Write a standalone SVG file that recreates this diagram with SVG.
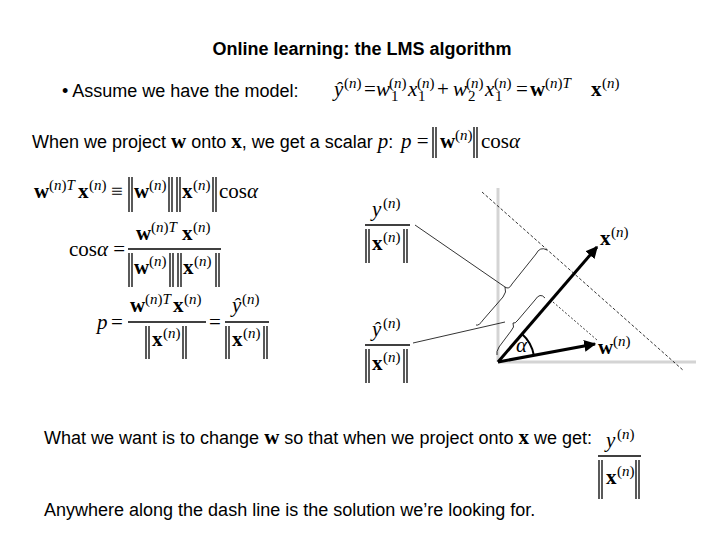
<svg xmlns="http://www.w3.org/2000/svg" width="720" height="540" viewBox="0 0 720 540">
<defs>
<style>
.s{font-family:"Liberation Sans",Arial,sans-serif;font-size:18px;fill:#000}
.m{font-family:"Liberation Serif","Times New Roman",serif;font-size:21px;fill:#000}
.p{font-family:"Liberation Serif","Times New Roman",serif;font-size:15px;fill:#000}
.b{font-weight:bold}
.i{font-style:italic}
.bar{stroke:#000;stroke-width:1.3}
.fl{stroke:#000;stroke-width:1.3}
</style>
<marker id="ah" viewBox="0 0 10 10" refX="9" refY="5" markerWidth="4" markerHeight="4" orient="auto"><path d="M0,0 L10,5 L0,10 z" fill="#000"/></marker>
</defs>
<rect width="720" height="540" fill="#fff"/>
<text class="s b" x="362" y="55" text-anchor="middle" font-size="17">Online learning: the LMS algorithm</text>
<text class="s" x="62" y="97">•  Assume we have the model:</text>
<g id="model">
<text class="m i" x="334" y="96">ŷ</text><text class="p" x="344" y="88">(<tspan class="i">n</tspan>)</text>
<text class="m" x="364" y="96">=</text>
<text class="m i" x="376" y="96">w</text><text class="p" x="389" y="88">(<tspan class="i">n</tspan>)</text><text class="p" x="391" y="101">1</text>
<text class="m i" x="408" y="96">x</text><text class="p" x="417" y="88">(<tspan class="i">n</tspan>)</text><text class="p" x="418" y="101">1</text>
<text class="m" x="437" y="96">+</text>
<text class="m i" x="453" y="96">w</text><text class="p" x="466" y="88">(<tspan class="i">n</tspan>)</text><text class="p" x="468" y="101">2</text>
<text class="m i" x="485" y="96">x</text><text class="p" x="494" y="88">(<tspan class="i">n</tspan>)</text><text class="p" x="495" y="101">1</text>
<text class="m" x="516" y="96">=</text>
<text class="m b" x="530" y="96">w</text><text class="p" x="545" y="88">(<tspan class="i">n</tspan>)<tspan class="i">T</tspan></text>
<text class="m b" x="591" y="96">x</text><text class="p" x="602" y="88">(<tspan class="i">n</tspan>)</text>
</g>
<text class="s" x="32" y="148">When we project <tspan class="m b">w</tspan> onto <tspan class="m b">x</tspan>, we get a scalar <tspan class="m i">p</tspan>:</text>
<g id="peq">
<text class="m" x="401" y="148"><tspan class="i">p</tspan> =</text>
<line class="bar" x1="433" y1="127" x2="433" y2="158"/><line class="bar" x1="436" y1="127" x2="436" y2="158"/>
<text class="m b" x="440" y="148">w</text><text class="p" x="455" y="140">(<tspan class="i">n</tspan>)</text>
<line class="bar" x1="474" y1="127" x2="474" y2="158"/><line class="bar" x1="477" y1="127" x2="477" y2="158"/>
<text class="m" x="481" y="148">cos<tspan class="i">α</tspan></text>
</g>
<g id="eq1">
<text class="m b" x="34" y="198">w</text><text class="p" x="49" y="190">(<tspan class="i">n</tspan>)<tspan class="i">T</tspan></text>
<text class="m b" x="78" y="198">x</text><text class="p" x="89" y="190">(<tspan class="i">n</tspan>)</text>
<text class="m" x="111" y="198">≡</text>
<line class="bar" x1="129" y1="177" x2="129" y2="212"/><line class="bar" x1="132" y1="177" x2="132" y2="212"/>
<text class="m b" x="134" y="198">w</text><text class="p" x="149" y="190">(<tspan class="i">n</tspan>)</text>
<line class="bar" x1="169" y1="177" x2="169" y2="212"/><line class="bar" x1="172" y1="177" x2="172" y2="212"/>
<line class="bar" x1="177" y1="177" x2="177" y2="212"/><line class="bar" x1="180" y1="177" x2="180" y2="212"/>
<text class="m b" x="182" y="198">x</text><text class="p" x="193" y="190">(<tspan class="i">n</tspan>)</text>
<line class="bar" x1="213" y1="177" x2="213" y2="212"/><line class="bar" x1="216" y1="177" x2="216" y2="212"/>
<text class="m" x="219" y="198">cos<tspan class="i">α</tspan></text>
</g>
<g id="eq2">
<text class="m" x="69" y="256">cos<tspan class="i">α</tspan> =</text>
<text class="m b" x="136" y="240">w</text><text class="p" x="151" y="232">(<tspan class="i">n</tspan>)<tspan class="i">T</tspan></text>
<text class="m b" x="182" y="240">x</text><text class="p" x="193" y="232">(<tspan class="i">n</tspan>)</text>
<line class="fl" x1="128" y1="249" x2="221" y2="249"/>
<line class="bar" x1="129" y1="253" x2="129" y2="287"/><line class="bar" x1="132" y1="253" x2="132" y2="287"/>
<text class="m b" x="134" y="274">w</text><text class="p" x="149" y="266">(<tspan class="i">n</tspan>)</text>
<line class="bar" x1="170" y1="253" x2="170" y2="287"/><line class="bar" x1="173" y1="253" x2="173" y2="287"/>
<line class="bar" x1="178" y1="253" x2="178" y2="287"/><line class="bar" x1="181" y1="253" x2="181" y2="287"/>
<text class="m b" x="183" y="274">x</text><text class="p" x="194" y="266">(<tspan class="i">n</tspan>)</text>
<line class="bar" x1="216" y1="253" x2="216" y2="287"/><line class="bar" x1="219" y1="253" x2="219" y2="287"/>
</g>
<g id="eq3">
<text class="m i" x="97" y="329">p</text><text class="m" x="111" y="329">=</text>
<text class="m b" x="130" y="312">w</text><text class="p" x="145" y="304">(<tspan class="i">n</tspan>)<tspan class="i">T</tspan></text>
<text class="m b" x="173" y="312">x</text><text class="p" x="184" y="304">(<tspan class="i">n</tspan>)</text>
<line class="fl" x1="128" y1="322" x2="206" y2="322"/>
<line class="bar" x1="146" y1="326" x2="146" y2="359"/><line class="bar" x1="149" y1="326" x2="149" y2="359"/>
<text class="m b" x="152" y="346">x</text><text class="p" x="163" y="338">(<tspan class="i">n</tspan>)</text>
<line class="bar" x1="183" y1="326" x2="183" y2="359"/><line class="bar" x1="186" y1="326" x2="186" y2="359"/>
<text class="m" x="209" y="329">=</text>
<text class="m i" x="232" y="312">ŷ</text><text class="p" x="242" y="304">(<tspan class="i">n</tspan>)</text>
<line class="fl" x1="225" y1="322" x2="269" y2="322"/>
<line class="bar" x1="226" y1="326" x2="226" y2="359"/><line class="bar" x1="229" y1="326" x2="229" y2="359"/>
<text class="m b" x="232" y="346">x</text><text class="p" x="243" y="338">(<tspan class="i">n</tspan>)</text>
<line class="bar" x1="264" y1="326" x2="264" y2="359"/><line class="bar" x1="267" y1="326" x2="267" y2="359"/>
</g>
<g id="fracY">
<text class="m i" x="372" y="216">y</text><text class="p" x="383" y="208">(<tspan class="i">n</tspan>)</text>
<line class="fl" x1="365" y1="225" x2="410" y2="225"/>
<line class="bar" x1="366" y1="229" x2="366" y2="263"/><line class="bar" x1="369" y1="229" x2="369" y2="263"/>
<text class="m b" x="372" y="250">x</text><text class="p" x="383" y="242">(<tspan class="i">n</tspan>)</text>
<line class="bar" x1="404" y1="229" x2="404" y2="263"/><line class="bar" x1="407" y1="229" x2="407" y2="263"/>
</g>
<g id="fracYhat">
<text class="m i" x="372" y="336">ŷ</text><text class="p" x="383" y="328">(<tspan class="i">n</tspan>)</text>
<line class="fl" x1="365" y1="345" x2="410" y2="345"/>
<line class="bar" x1="366" y1="349" x2="366" y2="383"/><line class="bar" x1="369" y1="349" x2="369" y2="383"/>
<text class="m b" x="372" y="370">x</text><text class="p" x="383" y="362">(<tspan class="i">n</tspan>)</text>
<line class="bar" x1="404" y1="349" x2="404" y2="383"/><line class="bar" x1="407" y1="349" x2="407" y2="383"/>
</g>
<g id="axes" stroke="#d4d4d4" stroke-width="3" fill="none">
<line x1="498" y1="188" x2="498" y2="362"/>
<line x1="498" y1="362" x2="696" y2="362"/>
</g>
<g id="connectors" fill="none" stroke="#000">
<line x1="482" y1="192" x2="684" y2="371" stroke-width="0.8" stroke-dasharray="3,2"/>
<line x1="553" y1="302" x2="597" y2="340" stroke-width="0.8" stroke-dasharray="2,2"/>
<line x1="415" y1="225" x2="505" y2="287" stroke-width="0.8"/>
<line x1="413" y1="343" x2="505" y2="322" stroke-width="0.8"/>
<path d="M547,250 Q540,246 536,254 L512,284 Q509,290 505,287 Q507,292 503,297 L483,320 Q479,326 476,325" stroke-width="0.8"/>
<path d="M545,298 Q540,292 535,300 L518,320 Q515,324 513,323 Q515,327 511,331 L499,347 Q496,352 497,355" stroke-width="0.8"/>
<line x1="498" y1="362" x2="597" y2="247" stroke-width="3" marker-end="url(#ah)"/>
<line x1="498" y1="362" x2="595" y2="344" stroke-width="3" marker-end="url(#ah)"/>
<path d="M522,334 A37,37 0 0 1 534,356" stroke-width="2"/>
</g>
<text class="m i" x="516" y="352">α</text>
<text class="m b" x="600" y="245">x</text><text class="p" x="611" y="237">(<tspan class="i">n</tspan>)</text>
<text class="m b" x="598" y="354">w</text><text class="p" x="613" y="346">(<tspan class="i">n</tspan>)</text>
<text class="s" x="44" y="444">What we want is to change <tspan class="m b">w</tspan> so that when we project onto <tspan class="m b">x</tspan> we get:</text>
<g id="fracBottom">
<text class="m i" x="606" y="447">y</text><text class="p" x="617" y="439">(<tspan class="i">n</tspan>)</text>
<line class="fl" x1="598" y1="456" x2="641" y2="456"/>
<line class="bar" x1="599" y1="460" x2="599" y2="499"/><line class="bar" x1="602" y1="460" x2="602" y2="499"/>
<text class="m b" x="606" y="484">x</text><text class="p" x="617" y="476">(<tspan class="i">n</tspan>)</text>
<line class="bar" x1="636" y1="460" x2="636" y2="499"/><line class="bar" x1="639" y1="460" x2="639" y2="499"/>
</g>
<text class="s" x="44" y="516">Anywhere along the dash line is the solution we’re looking for.</text>
</svg>
